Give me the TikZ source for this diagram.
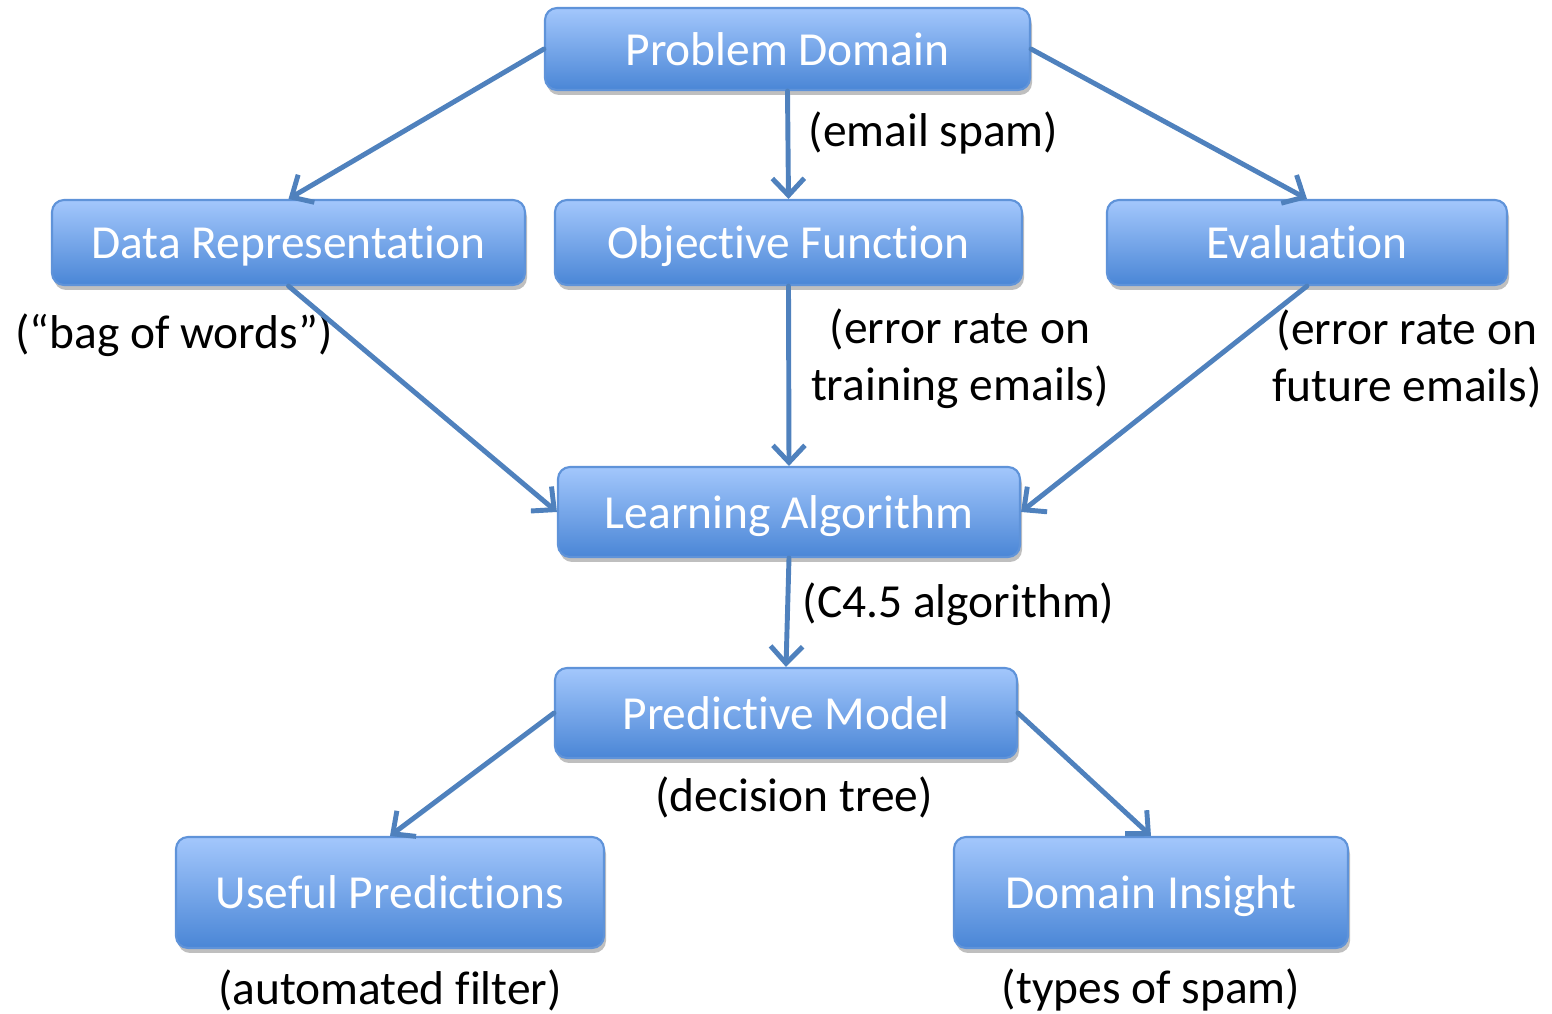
\documentclass[tikz,border=0pt]{standalone}
\usepackage{fontspec}
\setmainfont{Carlito}[Ligatures={NoCommon}]
\usetikzlibrary{arrows.meta,shadows}
\definecolor{boxtop}{HTML}{A3C7FC}
\definecolor{boxbot}{HTML}{4A86D6}
\definecolor{boxedge}{HTML}{5F93D9}
\definecolor{arrowblue}{HTML}{4F81BD}

\begin{document}
\begin{tikzpicture}[
	box/.style={rounded corners=0.12cm, draw=boxedge, line width=0.6pt, top color=boxtop, bottom color=boxbot,
		text=white, inner sep=0pt, text height=0.42cm, text depth=0.09cm, font=\fontsize{13.5}{16}\selectfont,
		drop shadow={shadow xshift=0.02cm, shadow yshift=-0.05cm, opacity=0.25, fill=black}},
	link/.style={draw=arrowblue, line width=1.4pt, line cap=round, line join=round,
		-{Straight Barb[length=1.7mm,width=3.2mm,line width=1.4pt]}},
	note/.style={font=\fontsize{13.5}{16.2}\selectfont, align=center, inner sep=0pt}
]
\useasboundingbox (0,0) rectangle (15.52,-10.14);

\node[box, minimum width=4.85cm, minimum height=0.82cm] (domain) at (7.875,-0.49) {Problem Domain};
\node[box, minimum width=4.73cm, minimum height=0.85cm] (datarep) at (2.885,-2.425) {Data Representation};
\node[box, minimum width=4.67cm, minimum height=0.85cm] (objective) at (7.885,-2.425) {Objective Function};
\node[box, minimum width=4.00cm, minimum height=0.85cm] (evaluation) at (13.07,-2.425) {Evaluation};
\node[box, minimum width=4.62cm, minimum height=0.90cm] (learning) at (7.89,-5.12) {Learning Algorithm};
\node[box, minimum width=4.62cm, minimum height=0.90cm] (model) at (7.86,-7.13) {Predictive Model};
\node[box, minimum width=4.28cm, minimum height=1.11cm] (predictions) at (3.90,-8.925) {Useful Predictions};
\node[box, minimum width=3.94cm, minimum height=1.11cm] (insight) at (11.51,-8.925) {Domain Insight};

% labels
\node[note, anchor=west] (spam) at (8.08,-1.33) {(email spam)};
\node[note] (bag) at (1.74,-3.35) {(“bag of words”)};
\node[note] (training) at (9.6,-3.585) {(error rate on\\training emails)};
\node[note] (future) at (14.07,-3.585) {(error rate on\\future emails)};
\node[note, anchor=west] (cfour) at (8.02,-6.04) {(C4.5 algorithm)};
\node[note] (tree) at (7.94,-7.97) {(decision tree)};
\node[note] (filter) at (3.90,-9.90) {(automated filter)};
\node[note] (types) at (11.51,-9.90) {(types of spam)};

% arrows
\draw[link] (domain.west) -- (datarep.north);
\draw[link] (domain.south) -- (objective.north);
\draw[link] (domain.east) -- (evaluation.north);
\draw[link] (datarep.south) -- (learning.west);
\draw[link] (objective.south) -- (learning.north);
\draw[link] (evaluation.south) -- (learning.east);
\draw[link] (learning.south) -- (model.north);
\draw[link] (model.west) -- (predictions.north);
\draw[link] (model.east) -- (insight.north);
\end{tikzpicture}
\end{document}
